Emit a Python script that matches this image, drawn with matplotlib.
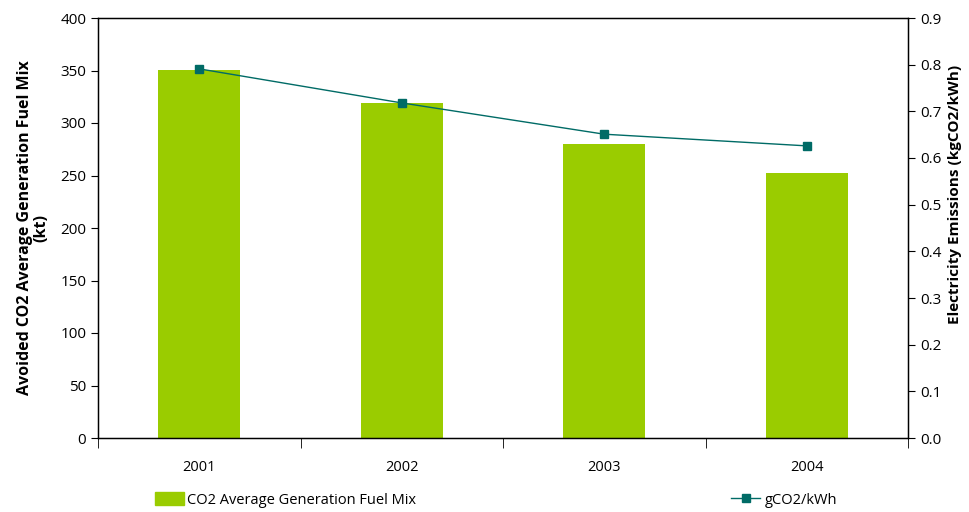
import matplotlib
matplotlib.use("Agg")
import matplotlib.pyplot as plt
import numpy as np
from matplotlib.patches import Patch
from matplotlib.lines import Line2D

years = ["2001", "2002", "2003", "2004"]
avoided_co2_kt = [350.5, 319, 280, 252.5]
emission_factor = [0.791, 0.718, 0.651, 0.626]

bar_color = "#9ACC00"
line_color = "#006B66"

plt.rcParams["font.family"] = ["Open Sans", "DejaVu Sans"]

fig = plt.figure(figsize=(9.69, 5.12), dpi=100)
ax = fig.add_axes([98 / 969, 1 - 438 / 512, 810 / 969, 420 / 512])

x = np.arange(len(years))
ax.bar(x, avoided_co2_kt, width=0.405, color=bar_color, zorder=2)
ax.set_xlim(-0.5, len(years) - 0.5)
ax.set_ylim(0, 400)
ax.set_yticks(np.arange(0, 401, 50))
ax.set_xticks(x)
ax.set_xticklabels(years)
ax.tick_params(axis="x", length=0, pad=16, labelsize=10.5)
ax.set_xticks(np.arange(-0.5, len(years), 1.0), minor=True)
ax.tick_params(axis="x", which="minor", length=7, direction="out")
ax.tick_params(axis="y", length=5, direction="out", labelsize=11)
for s in ax.spines.values():
    s.set_linewidth(1.0)

ax.set_ylabel("Avoided CO2 Average Generation Fuel Mix\n(kt)",
              fontsize=11.5, fontweight="bold", labelpad=8, linespacing=1.0)

ax2 = ax.twinx()
ax2.plot(x, emission_factor, color=line_color, marker="s", markersize=6,
         linewidth=1.0, zorder=3)
ax2.set_ylim(0, 0.9)
ax2.set_yticks(np.arange(0, 0.91, 0.1))
ax2.set_yticklabels([f"{v:.1f}" for v in np.arange(0, 0.91, 0.1)])
ax2.tick_params(axis="y", length=5, direction="out", labelsize=11)
ax2.set_ylabel("Electricity Emissions (kgCO2/kWh)", fontsize=11,
               fontweight="bold")
ax2.yaxis.set_label_coords(1.050, 0.58)

fig.legend(handles=[Patch(color=bar_color)],
           labels=["CO2 Average Generation Fuel Mix"],
           loc="center left", bbox_to_anchor=(142 / 969, 1 - 500 / 512),
           frameon=False, fontsize=10.5, handlelength=2.0,
           handleheight=1.0, handletextpad=0.2)
fig.legend(handles=[Line2D([], [], color=line_color, marker="s",
                           markersize=6, linewidth=1.0)],
           labels=["gCO2/kWh"],
           loc="center left", bbox_to_anchor=(718 / 969, 1 - 500 / 512),
           frameon=False, fontsize=10.5, handlelength=2.0,
           handletextpad=0.3)

fig.savefig("out.png", dpi=100)
